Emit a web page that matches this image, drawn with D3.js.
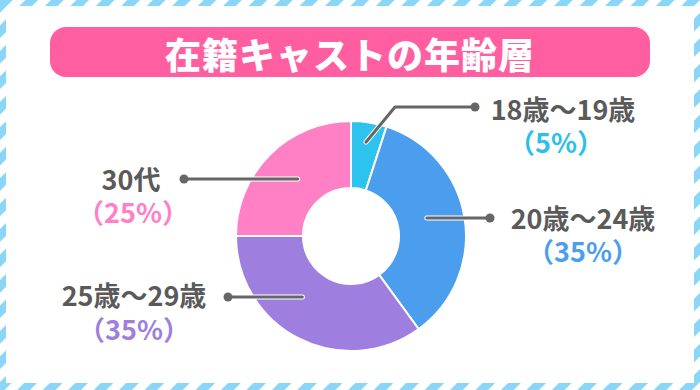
<!DOCTYPE html>
<html>
<head>
<meta charset="utf-8">
<script src="https://cdn.jsdelivr.net/npm/d3@7"></script>
<style>
  body { margin: 0; background: #fff; }
  svg { display: block; font-family: "Noto Sans CJK JP", sans-serif; }
</style>
</head>
<body>
<div id="chart"></div>
<script>
const title = "在籍キャストの年齢層";
const categories = ["18歳～19歳", "20歳～24歳", "25歳～29歳", "30代"];
const values = [5, 35, 35, 25];
const sliceColors = ["#2cc3ee", "#4b9eed", "#9e7fe0", "#ff80c5"];
const pctColors = ["#2cbfeb", "#4b9eed", "#9e7fe0", "#ff80c5"];

// label placement (name centre x / baseline, percent centre / baseline, dot, elbow)
const labelLayout = [
  { nx: 563, ny: 120, px: 556, py: 153, dot: [475, 107], elbow: [395, 107], r: 95 },
  { nx: 583, ny: 229, px: 583, py: 262, dot: [490, 218] },
  { nx: 134, ny: 306, px: 134, py: 340, dot: [228, 297] },
  { nx: 131, ny: 190, px: 133, py: 223, dot: [184, 179] }
];

const width = 700, height = 390;
const cx = 351, cy = 236, rOuter = 115, rInner = 48, rLine = 78;

const svg = d3.select("#chart").append("svg")
  .attr("width", width).attr("height", height);

// striped frame
const defs = svg.append("defs");
const pat = defs.append("pattern")
  .attr("id", "stripes")
  .attr("patternUnits", "userSpaceOnUse")
  .attr("width", 18).attr("height", 18)
  .attr("patternTransform", "rotate(45)");
pat.append("rect").attr("width", 9).attr("height", 18).attr("fill", "#8ad6f8");

svg.append("rect").attr("width", width).attr("height", height).attr("fill", "url(#stripes)");
svg.append("rect").attr("x", 6).attr("y", 6)
  .attr("width", width - 12).attr("height", height - 13).attr("fill", "#fff");

// title
svg.append("rect")
  .attr("x", 50).attr("y", 27).attr("width", 600).attr("height", 50)
  .attr("rx", 16).attr("fill", "#ff5fa0");
svg.append("text")
  .attr("x", 350).attr("y", 53)
  .attr("text-anchor", "middle").attr("dominant-baseline", "central")
  .attr("fill", "#fff").attr("font-size", 36).attr("font-weight", 900)
  .attr("letter-spacing", 1)
  .text(title);

// donut
const pie = d3.pie().sort(null).value(d => d);
const arcs = pie(values);
const arc = d3.arc().innerRadius(rInner).outerRadius(rOuter);

const g = svg.append("g").attr("transform", `translate(${cx},${cy})`);
g.selectAll("path").data(arcs).enter().append("path")
  .attr("d", arc)
  .attr("fill", (d, i) => sliceColors[i])
  .attr("stroke", "#fff").attr("stroke-width", 2);

// leader lines + labels
arcs.forEach((a, i) => {
  const L = labelLayout[i];
  let pts;
  if (L.elbow) {
    const mid = (a.startAngle + a.endAngle) / 2;
    const end = [cx + L.r * Math.sin(mid), cy - L.r * Math.cos(mid)];
    pts = [L.dot, L.elbow, end];
  } else {
    const dy = L.dot[1] - cy;
    const dx = Math.sqrt(rLine * rLine - dy * dy);
    const side = L.dot[0] > cx ? 1 : -1;
    pts = [L.dot, [cx + side * dx, L.dot[1]]];
  }
  const line = d3.line();
  svg.append("path").attr("d", line(pts))
    .attr("fill", "none").attr("stroke", "#fff").attr("stroke-width", 5)
    .attr("stroke-linecap", "round").attr("stroke-linejoin", "round");
  svg.append("path").attr("d", line(pts))
    .attr("fill", "none").attr("stroke", "#666").attr("stroke-width", 3)
    .attr("stroke-linecap", "round").attr("stroke-linejoin", "round");
  svg.append("circle").attr("cx", L.dot[0]).attr("cy", L.dot[1]).attr("r", 4.5).attr("fill", "#666");

  svg.append("text")
    .attr("x", L.nx).attr("y", L.ny).attr("text-anchor", "middle")
    .attr("fill", "#5a5a5a").attr("font-size", 27).attr("font-weight", 700)
    .text(categories[i]);
  svg.append("text")
    .attr("x", L.px).attr("y", L.py).attr("text-anchor", "middle")
    .attr("fill", pctColors[i]).attr("font-size", 27).attr("font-weight", 700)
    .text(`（${values[i]}%）`);
});
</script>
</body>
</html>
